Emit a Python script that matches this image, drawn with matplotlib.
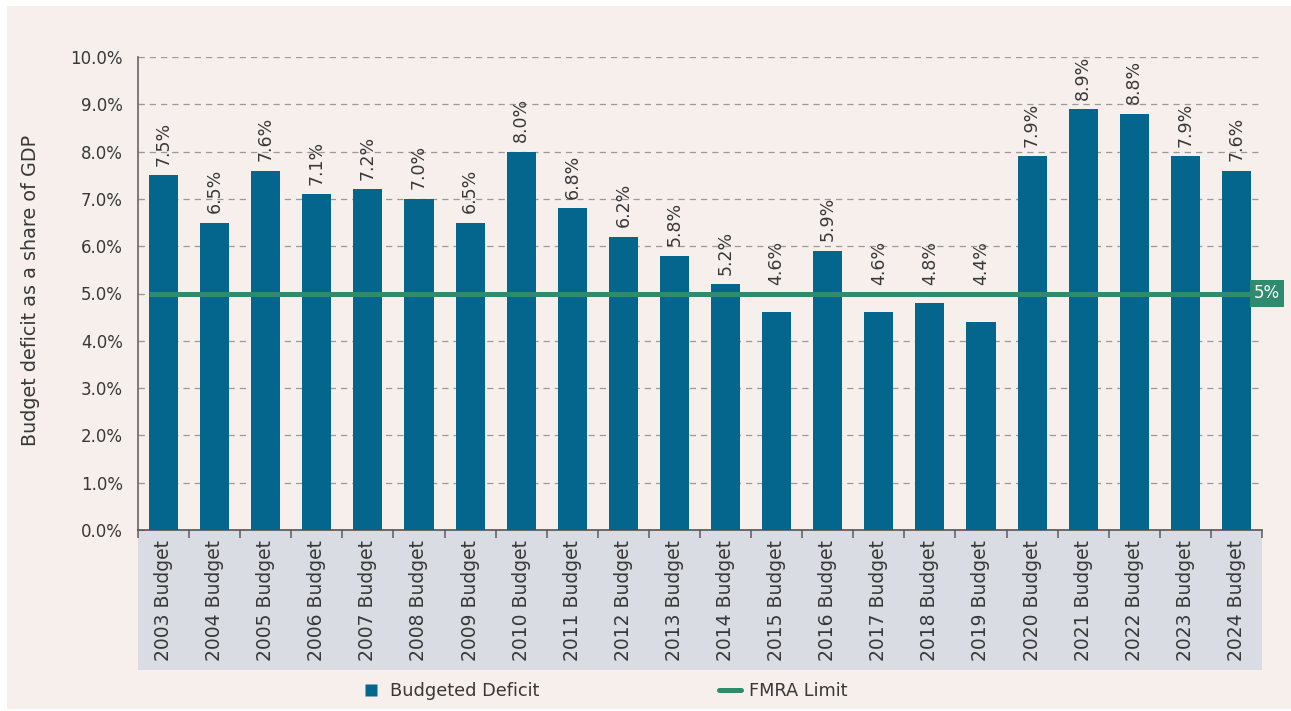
import numpy as np
import matplotlib.pyplot as plt
from matplotlib.patches import Rectangle
from matplotlib.lines import Line2D

plt.rcParams['font.family'] = ['DejaVu Sans']

years = [str(y) + ' Budget' for y in range(2003, 2025)]
deficit = [7.5, 6.5, 7.6, 7.1, 7.2, 7.0, 6.5, 8.0, 6.8, 6.2, 5.8,
           5.2, 4.6, 5.9, 4.6, 4.8, 4.4, 7.9, 8.9, 8.8, 7.9, 7.6]
limit = 5.0

bar_color = '#04668c'
line_color = '#2e8b6e'
bg = '#f6efec'
text_color = '#383838'

fig = plt.figure(figsize=(12.91, 7.11), dpi=100, facecolor='white')
fig.patches.append(Rectangle((7 / 1291, 2 / 711), 1284 / 1291, 703 / 711,
                             transform=fig.transFigure, facecolor=bg,
                             edgecolor='none', zorder=-10))
ax = fig.add_axes([138 / 1291, 1 - 530 / 711, 1124 / 1291, 473 / 711])
ax.set_facecolor(bg)

x = np.arange(len(years))
bw = 0.57
ax.bar(x, deficit, width=bw, color=bar_color, zorder=3)

# labels of bars under the limit sit just above the line
for xi, v in zip(x, deficit):
    ty = v + 0.2 if v >= limit else limit + 0.17
    ax.text(xi, ty, f'{v:.1f}%', rotation=90, ha='center', va='bottom',
            fontsize=12.5, color=text_color, zorder=4)

ax.plot([x[0] - bw / 2, x[-1] + bw / 2], [limit, limit], color=line_color,
        linewidth=3.6, zorder=5, solid_capstyle='butt')
ax.text(x[-1] + bw / 2 + 0.06, limit, '5%', ha='left', va='center', fontsize=12,
        color='white', zorder=6, clip_on=False,
        bbox=dict(boxstyle='square,pad=0.25', facecolor=line_color, edgecolor='none'))

ax.set_xlim(-0.5, len(years) - 0.5)
ax.set_ylim(0, 10)
yt = np.arange(0, 10.1, 1)
ax.set_yticks(yt)
ax.set_yticklabels([f'{t:.1f}%' for t in yt], fontsize=12, color=text_color)
ax.tick_params(axis='y', direction='in', length=4, color='#999999', pad=11)
ax.yaxis.grid(True, linestyle=(0, (5, 4)), color='#9a9a9a', linewidth=0.9, zorder=0)

ax.set_xticks(x)
ax.set_xticklabels(years, rotation=90, fontsize=13.5, color=text_color, va='top')
ax.tick_params(axis='x', which='major', length=0, pad=7)
ax.set_xticks(np.arange(-0.5, len(years), 1), minor=True)
ax.tick_params(axis='x', which='minor', length=6, color='#666666', width=1.2)

for s in ['top', 'right']:
    ax.spines[s].set_visible(False)
ax.spines['left'].set_color('#666666')
ax.spines['bottom'].set_color('#555555')
ax.spines['left'].set_linewidth(1.2)
ax.spines['bottom'].set_linewidth(1.2)

band = Rectangle((0, -140 / 473), 1, 140 / 473, transform=ax.transAxes,
                 facecolor='#d9dce2', edgecolor='none', clip_on=False, zorder=-1)
ax.add_patch(band)

fig.text(31 / 1291, 1 - 290 / 711, 'Budget deficit as a share of GDP', rotation=90,
         ha='center', va='center', fontsize=13.8, color=text_color)

handles = [Line2D([0], [0], marker='s', linestyle='none', markersize=9,
                  markerfacecolor=bar_color, markeredgecolor='none'),
           Line2D([0], [0], color=line_color, linewidth=3.6, solid_capstyle='round')]
fig.legend(handles, ['Budgeted Deficit', 'FMRA Limit'], loc='center',
           bbox_to_anchor=(604 / 1291, 1 - 691 / 711), ncol=2, frameon=False,
           fontsize=12.8, columnspacing=10.1, handlelength=1.2, handletextpad=0.5,
           labelcolor=text_color)

fig.savefig('out.png', dpi=100, facecolor='white')
